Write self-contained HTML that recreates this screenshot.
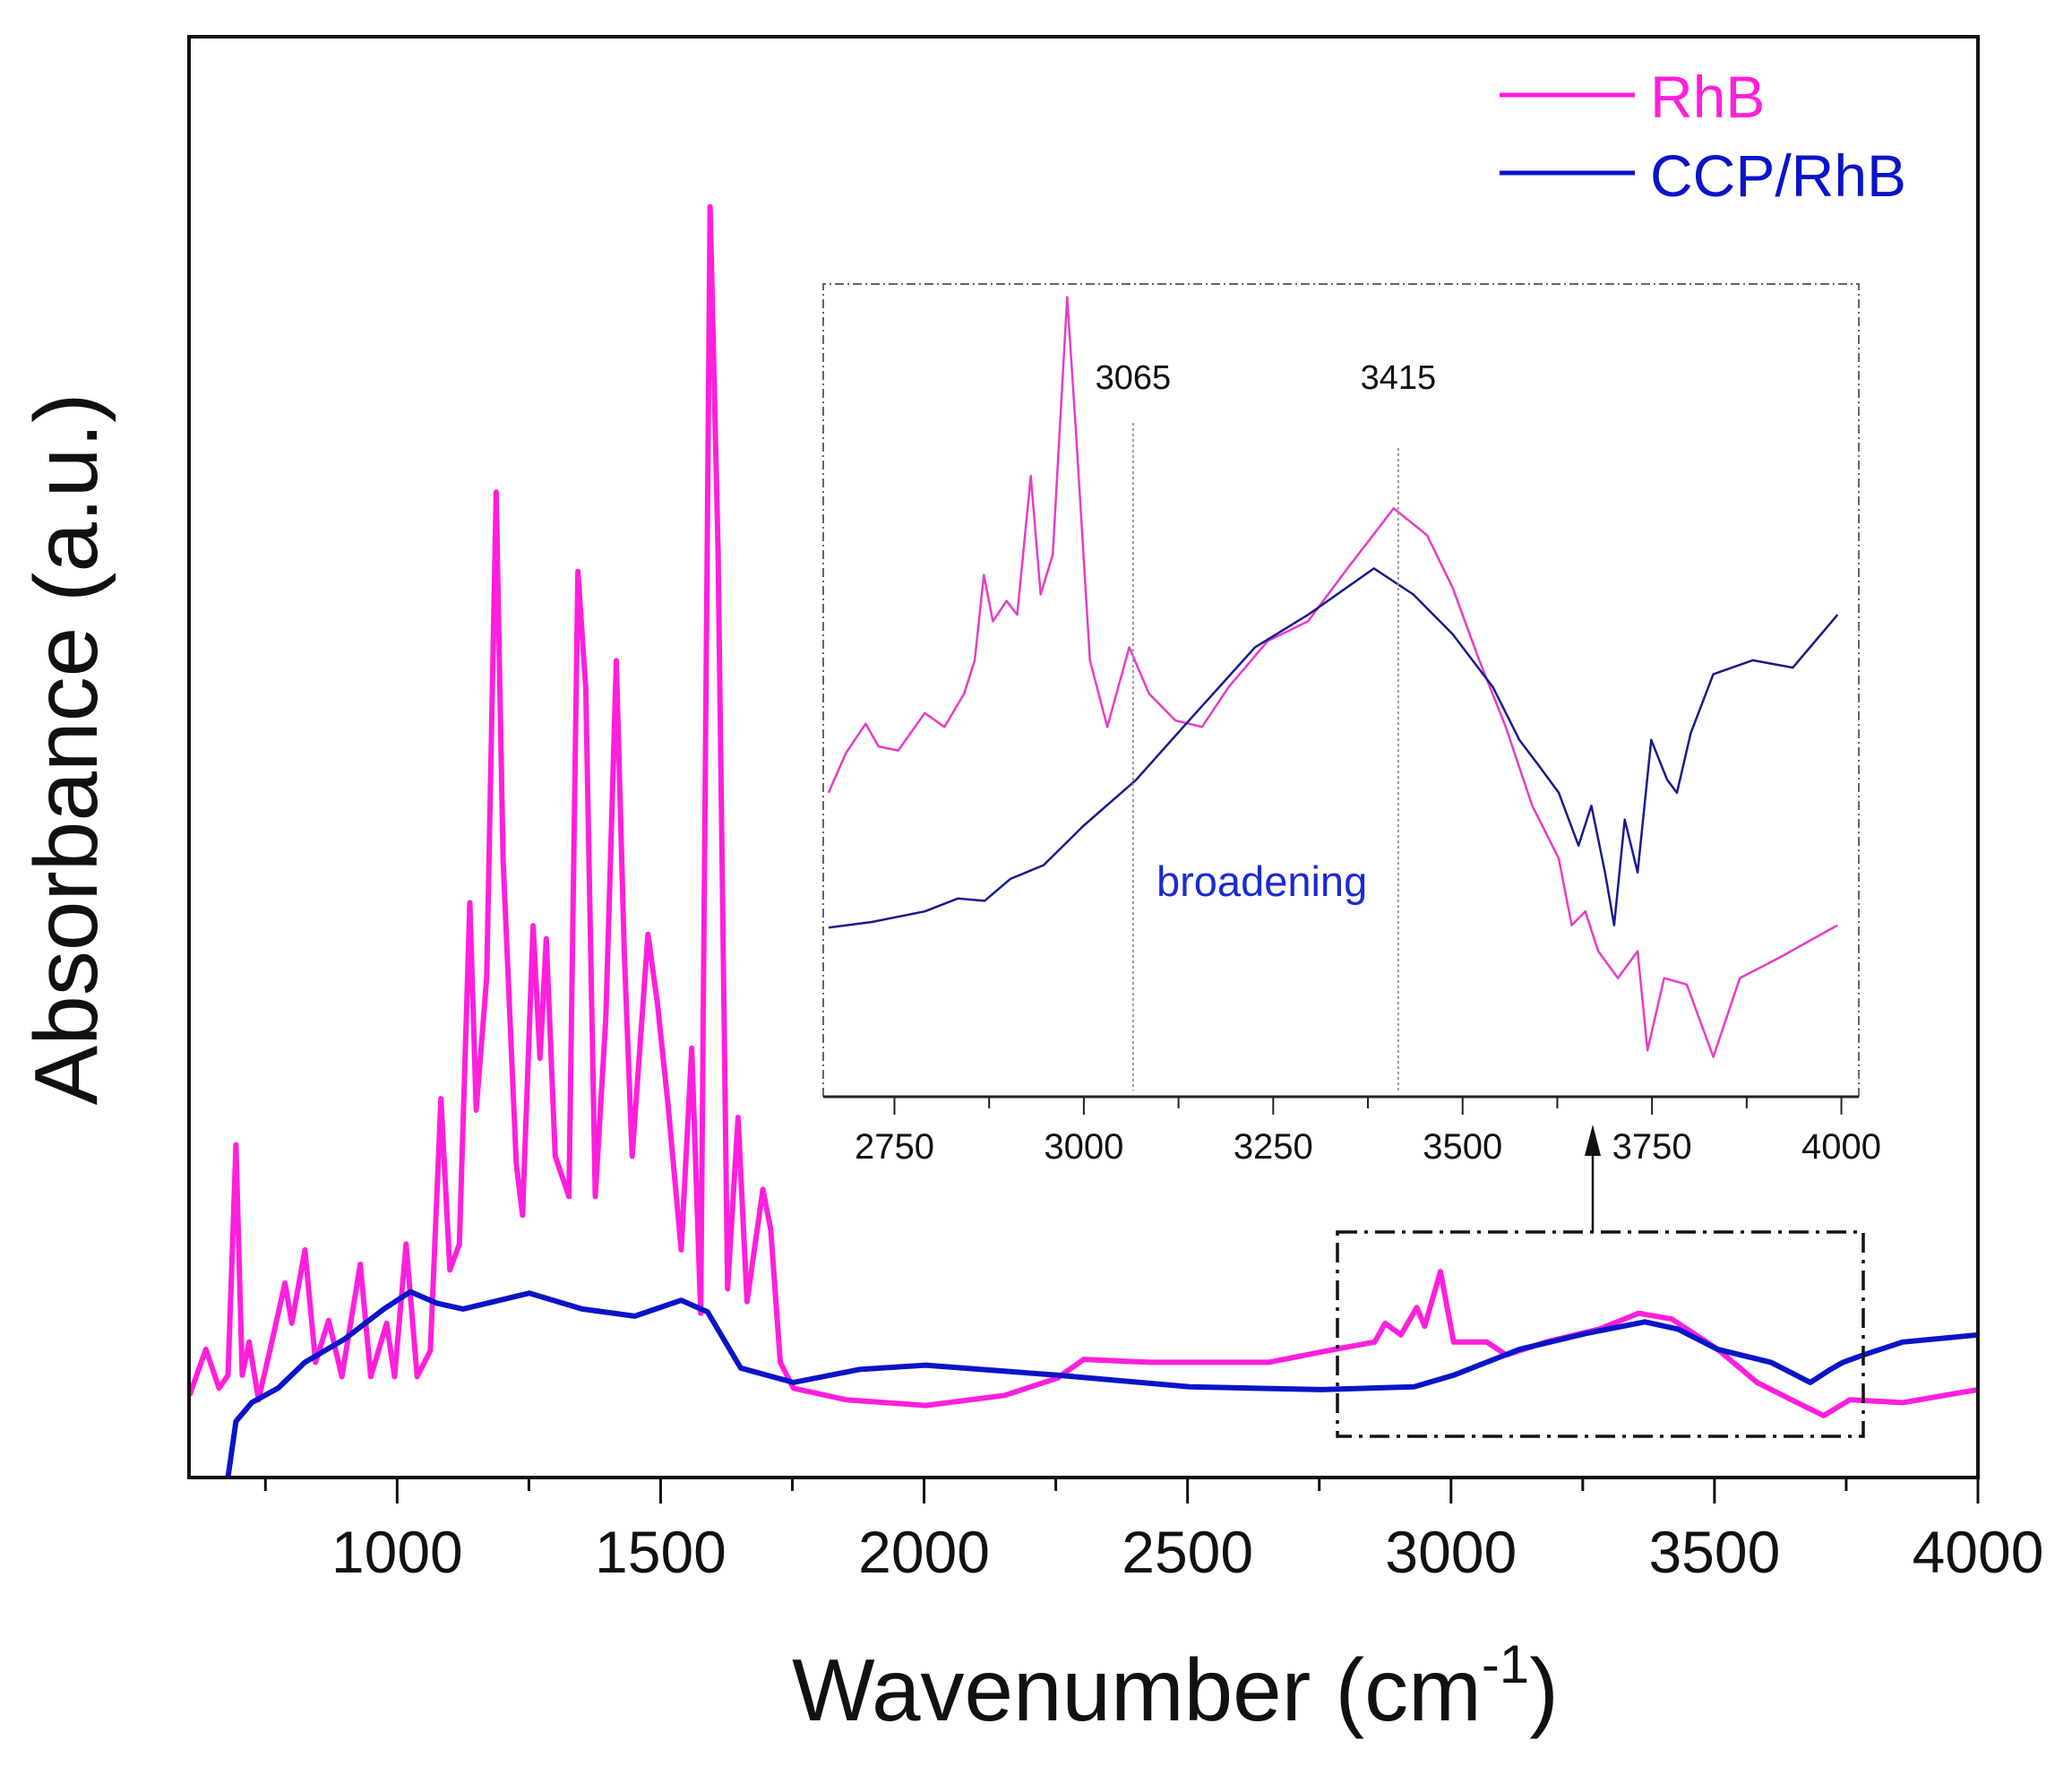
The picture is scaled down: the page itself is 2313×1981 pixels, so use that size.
<!DOCTYPE html>
<html><head><meta charset="utf-8">
<style>
html,body{margin:0;padding:0;background:#fff;}
svg{display:block;font-family:"Liberation Sans",Arial,sans-serif;}
</style></head>
<body>
<svg id="chart" width="2313" height="1981" viewBox="0 0 2313 1981" xmlns="http://www.w3.org/2000/svg">
  <rect x="0" y="0" width="2313" height="1981" fill="#fff"/>
  <g id="main"></g>
  <g id="inset"></g>
  <g id="deco"></g>
</svg>
<script>
// ---- Main chart data (wavenumber cm-1, absorbance a.u. 0-100) ----
const rhbWave = [606,637,662,679,694,706,719,737,762,787,800,825,845,870,895,930,950,980,995,1017,1038,1063,1083,1100,1118,1138,1150,1170,1188,1201,1226,1238,1258,1271,1283,1300,1326,1343,1358,1376,1396,1416,1431,1446,1476,1494,1514,1539,1559,1576,1594,1609,1627,1647,1664,1694,1709,1727,1752,1852,2003,2153,2253,2303,2429,2654,2779,2855,2875,2905,2935,2950,2980,3005,3068,3105,3180,3281,3356,3419,3506,3581,3657,3707,3757,3857,4000];
const rhbAbs  = [5.7,8.9,6.2,7.1,23.1,7.1,9.4,5.4,9.4,13.5,10.7,15.8,8.0,10.9,7.0,14.8,7.0,10.7,7.0,16.2,7.0,8.8,26.3,14.4,16.2,39.9,25.5,34.7,68.4,42.9,21.8,18.2,38.3,29.1,37.4,22.3,19.5,62.9,54.8,19.5,31.9,56.7,36.4,22.3,37.7,32.9,25.9,15.8,29.8,11.4,88.2,64.3,13.1,25.0,12.2,20.0,17.2,8.0,6.2,5.4,5.0,5.7,6.9,8.2,8.0,8.0,8.9,9.4,10.7,9.9,11.8,10.5,14.3,9.4,9.4,8.5,9.4,10.3,11.4,11.0,8.9,6.6,5.2,4.3,5.4,5.2,6.1];
const ccpWave = [679,694,724,774,825,900,975,1025,1075,1125,1251,1351,1451,1539,1589,1652,1752,1877,2003,2253,2504,2754,2930,3005,3130,3256,3368,3431,3506,3607,3682,3720,3744,3782,3857,4000];
const ccpAbs  = [0,3.9,5.2,6.2,8.0,9.6,11.7,12.9,12.1,11.7,12.8,11.7,11.2,12.3,11.5,7.6,6.6,7.5,7.8,7.1,6.3,6.1,6.3,7.1,8.9,10.0,10.8,10.3,8.9,8.0,6.6,7.5,8.0,8.5,9.4,9.9];
const xTickMajor = [1000,1500,2000,2500,3000,3500,4000];
const xTickMinor = [750,1250,1750,2250,2750,3250,3750];
const xTickLabels = ["1000","1500","2000","2500","3000","3500","4000"];
// ---- Inset data (zoom 2656-4023 cm-1, relative absorbance 0-100) ----
const insRhbWave = [2663,2686,2712,2729,2755,2790,2816,2842,2856,2868,2880,2898,2912,2930,2943,2959,2978,2990,3008,3031,3060,3086,3121,3156,3191,3243,3296,3348,3409,3453,3487,3522,3557,3592,3627,3644,3662,3679,3705,3731,3744,3766,3796,3831,3866,3918,3995];
const insRhbAbs  = [37.4,42.3,45.9,43.1,42.6,47.2,45.5,49.6,53.7,64.2,58.5,61.0,59.3,76.4,61.8,66.7,98.4,81.3,53.7,45.5,55.3,49.6,46.3,45.5,50.4,56.1,58.5,65.0,72.4,69.1,62.6,53.7,45.5,35.8,29.3,21.1,22.8,17.9,14.6,17.9,5.7,14.6,13.8,4.9,14.6,17.1,21.1];
const insCcpWave = [2663,2720,2790,2834,2869,2903,2947,2999,3069,3139,3226,3296,3383,3435,3487,3540,3575,3601,3627,3653,3670,3688,3700,3714,3731,3749,3770,3783,3801,3831,3883,3936,3995];
const insCcpAbs  = [20.8,21.5,22.8,24.4,24.1,26.8,28.5,33.3,39.0,46.3,55.3,59.3,65.0,61.8,56.9,50.4,43.9,40.7,37.4,30.9,35.8,27.6,21.1,34.1,27.6,43.9,39.0,37.4,44.7,52.0,53.7,52.8,59.3];
const insTickMajor = [2750,3000,3250,3500,3750,4000];
const insTickMinor = [2875,3125,3375,3625,3875];
const insTickLabels = ["2750","3000","3250","3500","3750","4000"];
const markerWave = [3065,3415];
const markerLabels = ["3065","3415"];

const NS = "http://www.w3.org/2000/svg";
function mk(parent, tag, attrs, text){
  const e = document.createElementNS(NS, tag);
  for (const k in attrs) e.setAttribute(k, attrs[k]);
  if (text !== undefined) e.textContent = text;
  parent.appendChild(e);
  return e;
}
const M = {l:211, r:2208, t:41, b:1649, x0:605, x1:4000};
const mx = w => M.l + (w - M.x0) / (M.x1 - M.x0) * (M.r - M.l);
const my = v => M.b - v / 100 * (M.b - M.t);
const I = {l:919, r:2075, t:317, b:1224, x0:2656, x1:4023};
const ix = w => I.l + (w - I.x0) / (I.x1 - I.x0) * (I.r - I.l);
const iy = v => I.b - v / 100 * (I.b - I.t);

const gm = document.getElementById('main');
const gi = document.getElementById('inset');

function path(g, xs, ys, fx, fy, color, w, name){
  let d = "";
  for (let i = 0; i < xs.length; i++) d += (i ? "L" : "M") + fx(xs[i]).toFixed(1) + "," + fy(ys[i]).toFixed(1);
  const p = mk(g, 'path', {d:d, fill:'none', stroke:color, 'stroke-width':w, 'stroke-linejoin':'round'});
  
  
  return p;
}

path(gm, rhbWave, rhbAbs, mx, my, '#ff1fdc', 6, 'rhb-line');
path(gm, ccpWave, ccpAbs, mx, my, '#0a14c8', 6, 'ccp-rhb-line');

const fr = mk(gm, 'rect', {x:M.l, y:M.t, width:M.r-M.l, height:M.b-M.t, fill:'none', stroke:'#111', 'stroke-width':4});



xTickMajor.forEach((w, i) => {
  const t = mk(gm, 'line', {x1:mx(w), x2:mx(w), y1:M.b, y2:M.b+29, stroke:'#111', 'stroke-width':3});
  
  
  const l = mk(gm, 'text', {x:mx(w), y:1755, 'font-size':66, 'text-anchor':'middle', fill:'#111'}, xTickLabels[i]);
  
  
});
xTickMinor.forEach(w => {
  const t = mk(gm, 'line', {x1:mx(w), x2:mx(w), y1:M.b, y2:M.b+15, stroke:'#111', 'stroke-width':3});
  
  
});

path(gi, insRhbWave, insRhbAbs, ix, iy, '#e63cc8', 2.5, 'inset-rhb-line');
path(gi, insCcpWave, insCcpAbs, ix, iy, '#1a1a8c', 2.5, 'inset-ccp-rhb-line');
const ib = mk(gi, 'path', {d:`M${I.l},${I.b}L${I.l},${I.t}L${I.r},${I.t}L${I.r},${I.b}`, fill:'none', stroke:'#666', 'stroke-width':2, 'stroke-dasharray':'10,4,2,4'});


const ia = mk(gi, 'line', {x1:I.l, x2:I.r, y1:I.b, y2:I.b, stroke:'#222', 'stroke-width':3});


insTickMajor.forEach((w, i) => {
  const t = mk(gi, 'line', {x1:ix(w), x2:ix(w), y1:I.b, y2:I.b+20, stroke:'#222', 'stroke-width':2});
  
  
  const l = mk(gi, 'text', {x:ix(w), y:1293, 'font-size':40, 'text-anchor':'middle', fill:'#111'}, insTickLabels[i]);
  
  
});
insTickMinor.forEach(w => {
  const t = mk(gi, 'line', {x1:ix(w), x2:ix(w), y1:I.b, y2:I.b+13, stroke:'#222', 'stroke-width':2});
  
  
});
markerWave.forEach((w, i) => {
  const ln = mk(gi, 'line', {x1:ix(w), x2:ix(w), y1:i ? 500 : 472, y2:1217, stroke:'#999', 'stroke-width':2, 'stroke-dasharray':'3,3'});
  
  
  const t = mk(gi, 'text', {x:ix(w), y:434, 'font-size':38, 'text-anchor':'middle', fill:'#111'}, markerLabels[i]);
  
  
});
</script>
<svg style="position:absolute;left:0;top:0" width="2313" height="1981" viewBox="0 0 2313 1981" xmlns="http://www.w3.org/2000/svg">
  <text x="1291" y="1000" font-size="47" fill="#1a2bd0" font-family="Liberation Sans, Arial, sans-serif">broadening</text>
  <rect x="1493" y="1375" width="587" height="228" fill="none" stroke="#111" stroke-width="3.5" stroke-dasharray="22,8,4,8"/>
  <line x1="1778" y1="1375" x2="1778" y2="1285" stroke="#111" stroke-width="2.5"/>
  <polygon points="1778,1255 1769,1290 1787,1290" fill="#111"/>
  <line x1="1674" y1="106" x2="1825" y2="106" stroke="#ff1fdc" stroke-width="5"/>
  <text x="1842" y="131" font-size="66" fill="#ff1fdc" font-family="Liberation Sans, Arial, sans-serif">RhB</text>
  <line x1="1674" y1="193" x2="1825" y2="193" stroke="#0a14c8" stroke-width="5"/>
  <text x="1842" y="219" font-size="66" fill="#0a14c8" font-family="Liberation Sans, Arial, sans-serif">CCP/RhB</text>
  <text x="1312" y="1920" font-size="98" text-anchor="middle" fill="#111" font-family="Liberation Sans, Arial, sans-serif">Wavenumber (cm<tspan font-size="60" dy="-42">-1</tspan><tspan dy="42">)</tspan></text>
  <text transform="translate(108,836) rotate(-90)" font-size="100" text-anchor="middle" fill="#111" font-family="Liberation Sans, Arial, sans-serif">Absorbance (a.u.)</text>
</svg>
</body></html>
